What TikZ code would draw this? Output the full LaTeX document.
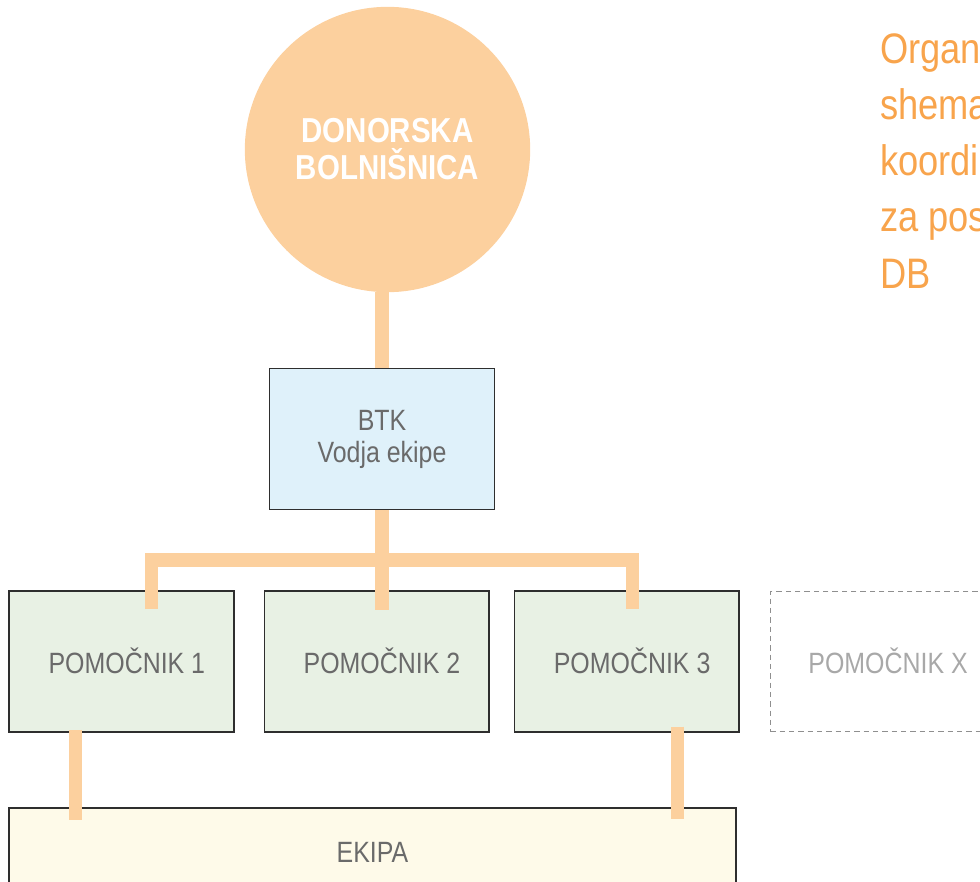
\documentclass[tikz,border=0pt]{standalone}
\usepackage{fontspec}
\setmainfont{Liberation Sans}[FakeStretch=0.85]
\usetikzlibrary{positioning}
\definecolor{oranzna}{HTML}{FCD09E}
\definecolor{naslovna}{HTML}{F8A44C}
\definecolor{modra}{HTML}{DFF1FA}
\definecolor{zelena}{HTML}{E8F1E4}
\definecolor{rumena}{HTML}{FEFAE9}
\definecolor{siva}{HTML}{6A6A6A}
\definecolor{svetlosiva}{HTML}{A8A8A8}
\definecolor{rob}{HTML}{2E2E2E}

\begin{document}
\begin{tikzpicture}[x=0.75pt, y=-0.75pt,
      okvir/.style={draw=rob, line width=1.1pt, inner sep=0pt,
        minimum width=168.5pt, minimum height=105.5pt,
        font=\fontsize{22}{24}\selectfont, text=siva},
      enovrst/.style={text height=18.5pt, text depth=0pt},
      pomocnik/.style={okvir, enovrst, fill=zelena},
      veza/.style={draw=oranzna, line width=10pt, line join=miter}]
    \useasboundingbox (0,0) rectangle (980,881);
    \node[circle, fill=oranzna, minimum size=214pt, inner sep=0pt, text=white, align=center,
      font=\bfseries\fontsize{26}{27.75}\selectfont] (bolnica) at (387.5,149.5) {DONORSKA\\BOLNIŠNICA};
    \node[okvir, fill=modra, align=center] (btk) at (382,439) {BTK\\Vodja ekipe};
    \node[pomocnik] (p1) at (121.5,661.5) {\hspace*{8pt}POMOČNIK 1};
    \node[pomocnik, right=21.75pt of p1] (p2) {\hspace*{8pt}POMOČNIK 2};
    \node[pomocnik, right=18pt of p2] (p3) {\hspace*{8pt}POMOČNIK 3};
    \node[okvir, enovrst, draw=svetlosiva!85!black, line width=0.8pt, dash pattern=on 4pt off 3pt,
      text=svetlosiva, right=22.5pt of p3] (px) {\hspace*{8pt}POMOČNIK X};
    \node[okvir, enovrst, fill=rumena, minimum width=545pt, minimum height=63pt] (ekipa) at (372.5,850) {EKIPA};
    \node[anchor=north west, inner sep=0pt, align=left, text=naslovna,
      font=\fontsize{32}{42.2}\selectfont] (naslov) at (880,32) {Organi\\shema\\koordi\\za pos\\DB};
    % povezave
    \path (btk.south) ++(0,50) coordinate (rama);
    \draw[veza] (btk.north) -- (btk.north |- bolnica.south);
    \draw[veza] (btk.south) -- ([yshift=-15pt]btk.south |- p2.north);
    \draw[veza] ([xshift=22.5pt,yshift=-14pt]p1.north) |- (rama) -| ([xshift=4.5pt,yshift=-14pt]p3.north);
    \draw[veza] ([xshift=-34.5pt,yshift=2pt]p1.south) -- ([xshift=-34.5pt,yshift=-9.75pt]p1.south |- ekipa.north);
    \draw[veza] ([xshift=38.25pt,yshift=4.5pt]p3.south) -- ([xshift=38.25pt,yshift=-9pt]p3.south |- ekipa.north);
  \end{tikzpicture}
\end{document}
